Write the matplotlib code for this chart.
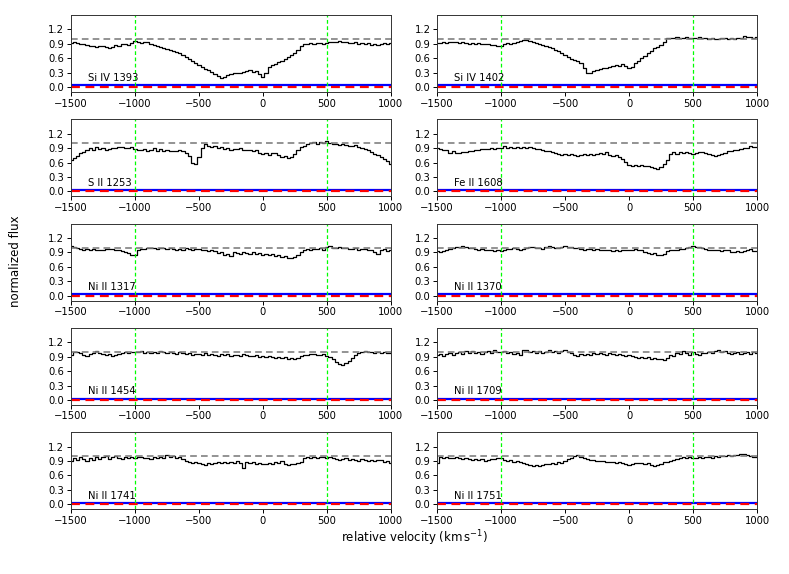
import numpy as np
import matplotlib
matplotlib.use("Agg")
import matplotlib.pyplot as plt

# velocity grid (km/s), 25 km/s bins
vel = np.arange(-1500, 1001, 25)

lines = ["Si IV 1393", "Si IV 1402", "S II 1253", "Fe II 1608", "Ni II 1317",
         "Ni II 1370", "Ni II 1454", "Ni II 1709", "Ni II 1741", "Ni II 1751"]

flux_si1393 = [
    0.92, 0.93, 0.91, 0.90, 0.90, 0.88, 0.86, 0.85, 0.84, 0.86, 0.85, 0.83,
    0.82, 0.84, 0.87, 0.86, 0.89, 0.90, 0.88, 0.91, 0.95, 0.93, 0.92, 0.94,
    0.93, 0.90, 0.88, 0.86, 0.84, 0.82, 0.80, 0.78, 0.75, 0.73, 0.70, 0.66,
    0.62, 0.58, 0.55, 0.50, 0.46, 0.42, 0.38, 0.35, 0.31, 0.28, 0.24, 0.18,
    0.22, 0.26, 0.27, 0.29, 0.29, 0.30, 0.32, 0.33, 0.35, 0.31, 0.33, 0.27,
    0.22, 0.30, 0.42, 0.46, 0.48, 0.52, 0.54, 0.58, 0.62, 0.66, 0.70, 0.77,
    0.86, 0.89, 0.90, 0.91, 0.90, 0.92, 0.91, 0.90, 0.92, 0.94, 0.93, 0.94,
    0.95, 0.93, 0.94, 0.92, 0.91, 0.93, 0.90, 0.92, 0.89, 0.91, 0.88, 0.90,
    0.87, 0.89, 0.92, 0.90, 0.91]
flux_si1402 = [
    0.91, 0.92, 0.93, 0.92, 0.93, 0.94, 0.93, 0.92, 0.93, 0.92, 0.90, 0.91,
    0.90, 0.91, 0.89, 0.90, 0.89, 0.88, 0.87, 0.86, 0.85, 0.89, 0.91, 0.90,
    0.92, 0.94, 0.96, 0.97, 0.98, 0.96, 0.94, 0.92, 0.90, 0.88, 0.86, 0.84,
    0.82, 0.78, 0.74, 0.70, 0.66, 0.62, 0.59, 0.57, 0.55, 0.50, 0.40, 0.29,
    0.30, 0.34, 0.36, 0.38, 0.40, 0.39, 0.42, 0.44, 0.45, 0.43, 0.47, 0.44,
    0.39, 0.42, 0.50, 0.55, 0.60, 0.64, 0.70, 0.75, 0.81, 0.83, 0.88, 0.94,
    1.02, 1.03, 1.02, 1.04, 1.03, 1.02, 1.04, 1.01, 1.03, 1.02, 1.04, 1.03,
    1.01, 1.00, 1.02, 0.99, 1.00, 1.02, 1.01, 0.99, 1.02, 1.00, 1.03, 1.01,
    1.06, 1.04, 1.05, 1.03, 1.04]
flux_s1253 = [
    0.66, 0.70, 0.74, 0.80, 0.82, 0.86, 0.90, 0.87, 0.92, 0.89, 0.90, 0.87,
    0.89, 0.91, 0.90, 0.92, 0.93, 0.91, 0.90, 0.92, 0.88, 0.87, 0.86, 0.88,
    0.84, 0.87, 0.90, 0.85, 0.89, 0.85, 0.86, 0.84, 0.85, 0.83, 0.86, 0.84,
    0.80, 0.74, 0.60, 0.56, 0.72, 0.90, 0.98, 0.95, 0.93, 0.95, 0.91, 0.92,
    0.89, 0.90, 0.87, 0.89, 0.88, 0.90, 0.87, 0.86, 0.87, 0.84, 0.86, 0.80,
    0.77, 0.79, 0.76, 0.80, 0.79, 0.75, 0.72, 0.73, 0.69, 0.71, 0.78, 0.86,
    0.92, 0.95, 0.98, 1.01, 1.02, 0.98, 1.03, 1.00, 1.05, 1.00, 0.98, 0.99,
    0.97, 0.99, 0.96, 0.95, 0.94, 0.96, 0.93, 0.90, 0.88, 0.86, 0.82, 0.78,
    0.75, 0.72, 0.68, 0.64, 0.57]
flux_fe1608 = [
    0.90, 0.88, 0.86, 0.87, 0.80, 0.84, 0.79, 0.80, 0.81, 0.82, 0.84, 0.85,
    0.86, 0.87, 0.88, 0.89, 0.88, 0.90, 0.89, 0.91, 0.90, 0.94, 0.91, 0.93,
    0.90, 0.93, 0.91, 0.92, 0.90, 0.93, 0.91, 0.89, 0.88, 0.86, 0.85, 0.83,
    0.82, 0.80, 0.78, 0.76, 0.78, 0.75, 0.77, 0.76, 0.74, 0.75, 0.77, 0.76,
    0.78, 0.76, 0.78, 0.80, 0.77, 0.82, 0.76, 0.74, 0.75, 0.72, 0.68, 0.62,
    0.54, 0.52, 0.55, 0.53, 0.54, 0.52, 0.53, 0.50, 0.49, 0.46, 0.50, 0.56,
    0.66, 0.78, 0.82, 0.78, 0.81, 0.79, 0.82, 0.80, 0.78, 0.80, 0.82, 0.81,
    0.79, 0.77, 0.76, 0.74, 0.75, 0.78, 0.80, 0.83, 0.84, 0.86, 0.87, 0.89,
    0.90, 0.91, 0.95, 0.93, 0.92]
flux_ni1317 = [
    1.03, 1.02, 0.99, 0.97, 0.96, 0.98, 0.95, 0.97, 0.96, 0.94, 0.96, 0.97,
    0.98, 0.97, 0.95, 0.94, 0.93, 0.91, 0.88, 0.85, 0.84, 0.96, 0.98, 0.97,
    1.00, 0.99, 1.00, 0.98, 1.00, 0.99, 0.97, 0.99, 0.98, 0.95, 0.97, 0.96,
    0.99, 0.97, 0.95, 0.97, 0.98, 0.96, 0.94, 0.93, 0.95, 0.92, 0.89, 0.91,
    0.85, 0.87, 0.83, 0.90, 0.89, 0.86, 0.91, 0.88, 0.87, 0.90, 0.86, 0.88,
    0.85, 0.87, 0.84, 0.86, 0.83, 0.85, 0.80, 0.82, 0.79, 0.78, 0.80, 0.84,
    0.90, 0.95, 0.97, 0.96, 0.98, 0.97, 0.99, 0.96, 1.01, 1.03, 0.99, 1.00,
    1.01, 0.99, 1.00, 0.98, 0.97, 0.99, 0.96, 0.98, 0.97, 0.94, 0.96, 0.90,
    0.87, 0.95, 0.97, 0.93, 0.94]
flux_ni1370 = [
    0.92, 0.90, 0.93, 0.96, 0.98, 1.00, 1.02, 1.01, 1.03, 1.02, 1.00, 0.99,
    0.98, 0.96, 0.97, 0.95, 0.94, 0.95, 0.93, 0.94, 0.93, 0.96, 0.97, 0.98,
    0.99, 0.97, 0.95, 0.98, 1.00, 1.02, 1.01, 0.99, 1.00, 0.98, 1.01, 1.03,
    1.01, 0.99, 1.00, 1.02, 1.03, 1.01, 1.02, 1.00, 0.99, 0.98, 0.96, 0.97,
    0.98, 0.95, 0.97, 0.96, 0.94, 0.96, 0.95, 0.93, 0.95, 0.92, 0.94, 0.95,
    0.96, 0.94, 0.97, 0.96, 0.95, 0.91, 0.88, 0.86, 0.89, 0.85, 0.84, 0.87,
    0.92, 0.94, 0.96, 0.95, 0.98, 0.97, 0.99, 1.01, 1.03, 1.01, 1.02, 0.99,
    0.97, 0.95, 0.96, 0.94, 0.95, 0.93, 0.96, 0.94, 0.91, 0.90, 0.92, 0.91,
    0.93, 0.95, 0.97, 0.92, 0.93]
flux_ni1454 = [
    0.93, 0.99, 1.00, 0.98, 0.94, 0.92, 0.95, 0.97, 1.01, 0.97, 0.95, 0.93,
    0.95, 0.92, 0.94, 0.96, 0.97, 0.99, 0.98, 1.00, 1.00, 0.99, 1.01, 0.98,
    0.99, 0.97, 1.00, 0.98, 1.02, 0.99, 0.97, 1.00, 0.98, 0.96, 0.99, 0.97,
    0.95, 0.97, 0.93, 0.96, 0.95, 0.94, 0.97, 0.93, 0.96, 0.94, 0.92, 0.95,
    0.93, 0.96, 0.92, 0.94, 0.94, 0.92, 0.95, 0.93, 0.92, 0.91, 0.93, 0.90,
    0.91, 0.89, 0.92, 0.90, 0.88, 0.90, 0.87, 0.89, 0.86, 0.88, 0.85, 0.87,
    0.92, 0.94, 0.93, 0.95, 0.96, 0.94, 0.93, 0.95, 0.92, 0.90, 0.85, 0.80,
    0.74, 0.72, 0.76, 0.82, 0.88, 0.94, 0.97, 1.00, 1.01, 0.99, 1.00, 0.98,
    0.99, 0.97, 0.99, 0.98, 0.97]
flux_ni1709 = [
    0.93, 0.95, 0.91, 0.96, 0.97, 0.94, 0.98, 1.00, 0.96, 1.01, 0.98, 1.02,
    0.97, 1.00, 0.96, 0.99, 1.01, 0.97, 1.03, 1.00, 0.99, 1.01, 0.98, 1.00,
    0.95, 0.98, 0.94, 1.03, 1.04, 1.00, 1.02, 0.98, 1.01, 0.97, 1.00, 1.03,
    0.99, 1.02, 0.98, 1.01, 1.03, 0.99, 0.97, 0.94, 0.92, 0.95, 0.93, 0.96,
    0.94, 0.97, 0.95, 0.98, 0.96, 0.93, 0.97, 0.95, 0.93, 0.96, 0.94, 0.92,
    0.93, 0.91, 0.90, 0.88, 0.90, 0.87, 0.89, 0.86, 0.88, 0.85, 0.86, 0.83,
    0.88, 0.94, 0.92, 0.97, 0.95, 1.01, 0.97, 0.94, 1.00, 0.96, 0.94, 0.97,
    0.98, 1.00, 0.97, 1.02, 1.04, 0.99, 1.01, 0.98, 0.96, 0.98, 1.00, 0.95,
    0.97, 0.99, 0.96, 1.00, 0.98]
flux_ni1741 = [
    0.91, 0.96, 0.93, 0.98, 0.95, 0.90, 0.97, 0.93, 0.99, 0.94, 0.98, 1.00,
    0.95, 0.98, 1.00, 0.97, 0.95, 0.98, 0.96, 0.99, 0.97, 0.99, 0.98, 0.96,
    0.97, 0.95, 0.98, 0.96, 0.99, 0.97, 1.02, 0.98, 1.00, 0.96, 0.98, 0.94,
    0.90, 0.87, 0.85, 0.89, 0.86, 0.84, 0.82, 0.85, 0.84, 0.86, 0.88, 0.85,
    0.89, 0.86, 0.88, 0.85, 0.90, 0.85, 0.76, 0.87, 0.86, 0.88, 0.84, 0.86,
    0.84, 0.83, 0.86, 0.84, 0.88, 0.86, 0.90, 0.84, 0.82, 0.84, 0.83, 0.85,
    0.87, 0.97, 0.98, 0.96, 0.98, 0.97, 0.99, 0.98, 0.97, 0.98, 0.96, 0.95,
    0.93, 0.94, 0.96, 0.92, 0.95, 0.93, 0.91, 0.94, 0.92, 0.90, 0.93, 0.91,
    0.93, 0.92, 0.89, 0.91, 0.86]
flux_ni1751 = [
    0.86, 0.98, 0.96, 0.99, 0.97, 0.96, 0.98, 0.97, 0.95, 0.96, 0.94, 0.93,
    0.95, 0.92, 0.94, 0.91, 0.93, 0.95, 0.94, 0.96, 0.97, 0.93, 0.91, 0.92,
    0.89, 0.90, 0.87, 0.86, 0.84, 0.82, 0.79, 0.81, 0.80, 0.82, 0.84, 0.83,
    0.85, 0.84, 0.87, 0.86, 0.90, 0.94, 0.97, 1.01, 1.03, 0.99, 0.96, 0.94,
    0.93, 0.92, 0.90, 0.91, 0.90, 0.88, 0.89, 0.87, 0.86, 0.87, 0.85, 0.83,
    0.82, 0.84, 0.86, 0.85, 0.86, 0.84, 0.85, 0.82, 0.79, 0.81, 0.84, 0.87,
    0.88, 0.91, 0.93, 0.95, 0.97, 0.98, 0.96, 0.98, 0.97, 0.96, 0.98, 0.97,
    0.98, 0.99, 0.96, 1.00, 0.99, 1.01, 1.00, 1.02, 1.01, 1.03, 1.02, 1.04,
    1.05, 1.03, 1.01, 0.99, 0.98]

fluxes = [flux_si1393, flux_si1402, flux_s1253, flux_fe1608, flux_ni1317,
          flux_ni1370, flux_ni1454, flux_ni1709, flux_ni1741, flux_ni1751]

# typical flux error per line
err_level = [0.035, 0.035, 0.03, 0.03, 0.03, 0.03, 0.03, 0.03, 0.035, 0.035]

vmarks = [-1000, 500]

fig, axes = plt.subplots(5, 2, figsize=(7.89, 5.74), dpi=100)
plt.subplots_adjust(left=0.090, right=0.9594, top=0.974, bottom=0.113,
                    wspace=0.145, hspace=0.355)

for i, ax in enumerate(axes.flat):
    ax.plot(vel, fluxes[i], color='black', lw=0.9, drawstyle='steps-mid')
    ax.plot(vel, np.full(len(vel), err_level[i]), color='blue', lw=1.6)
    ax.axhline(1.0, color='gray', ls='--', lw=1.2, dashes=(4, 2.5))
    ax.axhline(0.0, color='red', ls='--', lw=1.6, dashes=(4, 2.5))
    for vm in vmarks:
        ax.axvline(vm, color='lime', ls='--', lw=0.9, dashes=(3, 2))
    ax.text(-1370, 0.12, lines[i], fontsize=7.2)
    ax.set_xlim(-1500, 1000)
    ax.set_ylim(-0.1, 1.5)
    ax.set_xticks([-1500, -1000, -500, 0, 500, 1000])
    ax.set_yticks([0.0, 0.3, 0.6, 0.9, 1.2])
    ax.tick_params(labelsize=7.2, length=2.8, width=0.7, pad=2)
    for sp in ax.spines.values():
        sp.set_linewidth(0.7)
        sp.set_color('#333333')

fig.text(0.012, 0.545, 'normalized flux', rotation=90, va='center', ha='left', fontsize=8.5)
fig.text(0.525, 0.062, r'relative velocity (km$\,$s$^{-1}$)', ha='center', va='center', fontsize=8.5)

plt.savefig('out.png', dpi=100)
